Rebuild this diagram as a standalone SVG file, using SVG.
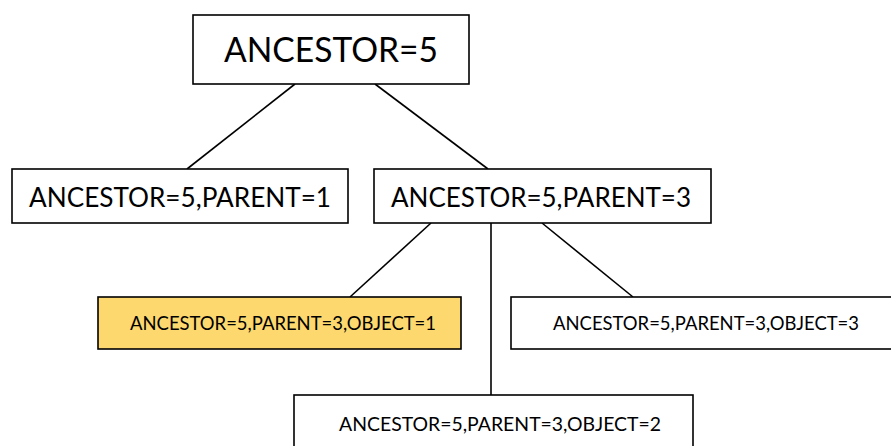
<svg xmlns="http://www.w3.org/2000/svg" width="891" height="446" viewBox="0 0 891 446">
  <style>
    .box { fill: #ffffff; stroke: #000000; stroke-width: 1.6; }
    .hl { fill: #fdd86e; }
    .lbl { font-family: Lato, "Noto Sans", "Liberation Sans", sans-serif; fill: #000000; text-anchor: middle; }
    .edge { stroke: #000000; stroke-width: 1.6; fill: none; }
  </style>
  <rect width="891" height="446" fill="#ffffff"/>

  <g id="connectors">
    <line class="edge" x1="295" y1="84" x2="187" y2="169"/>
    <line class="edge" x1="375" y1="84" x2="488" y2="169"/>
    <line class="edge" x1="431" y1="223" x2="350" y2="297"/>
    <line class="edge" x1="491" y1="223" x2="491" y2="395"/>
    <line class="edge" x1="542" y1="223" x2="633" y2="297"/>
  </g>

  <g id="root">
    <rect class="box" x="193" y="15" width="276" height="69"/>
    <text class="lbl" x="331" y="62" font-size="34" textLength="214" lengthAdjust="spacingAndGlyphs">ANCESTOR=5</text>
  </g>

  <g id="parent1">
    <rect class="box" x="12" y="169" width="336" height="54"/>
    <text class="lbl" x="180" y="207" font-size="27" textLength="302" lengthAdjust="spacingAndGlyphs">ANCESTOR=5,PARENT=1</text>
  </g>

  <g id="parent3">
    <rect class="box" x="374" y="169" width="337" height="54"/>
    <text class="lbl" x="541" y="207" font-size="27" textLength="300" lengthAdjust="spacingAndGlyphs">ANCESTOR=5,PARENT=3</text>
  </g>

  <g id="object1">
    <rect class="box hl" x="98" y="297" width="363" height="52"/>
    <text class="lbl" x="283" y="330" font-size="19" textLength="306" lengthAdjust="spacingAndGlyphs">ANCESTOR=5,PARENT=3,OBJECT=1</text>
  </g>

  <g id="object3">
    <rect class="box" x="511" y="297" width="384" height="52"/>
    <text class="lbl" x="706" y="330" font-size="19" textLength="306" lengthAdjust="spacingAndGlyphs">ANCESTOR=5,PARENT=3,OBJECT=3</text>
  </g>

  <g id="object2">
    <rect class="box" x="294" y="395" width="399" height="60"/>
    <text class="lbl" x="500" y="431" font-size="19" textLength="322" lengthAdjust="spacingAndGlyphs">ANCESTOR=5,PARENT=3,OBJECT=2</text>
  </g>
</svg>
